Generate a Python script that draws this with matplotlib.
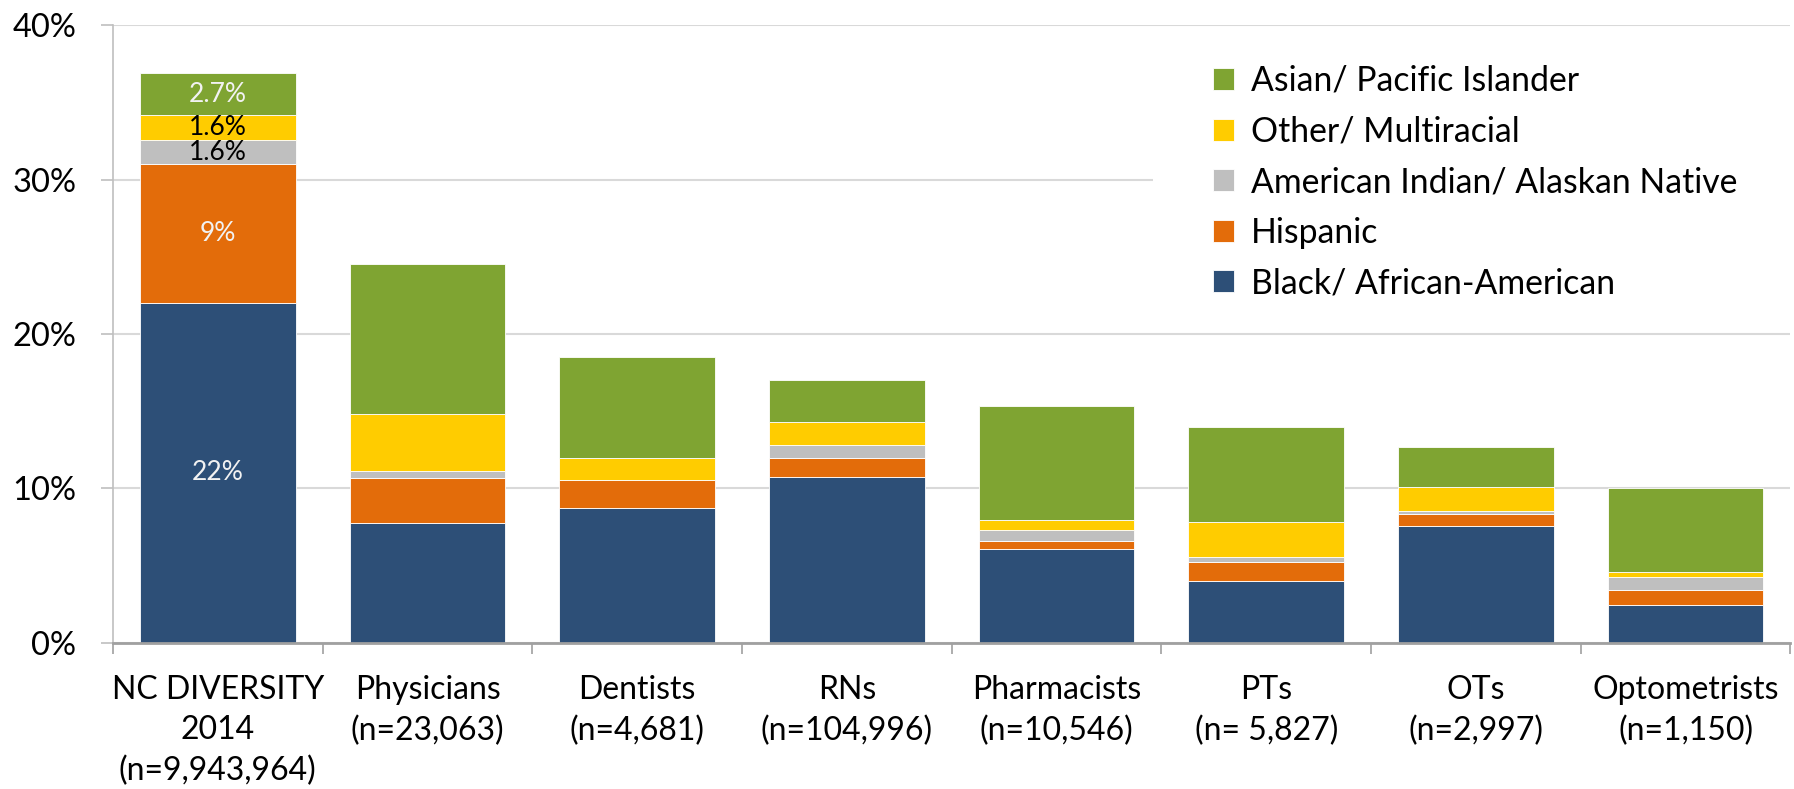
import numpy as np
import matplotlib
matplotlib.use("Agg")
import matplotlib.pyplot as plt
from matplotlib.patches import Rectangle

plt.rcParams['font.family'] = ['Lato', 'DejaVu Sans']

categories = ["NC DIVERSITY\n2014\n(n=9,943,964)", "Physicians\n(n=23,063)",
              "Dentists\n(n=4,681)", "RNs\n(n=104,996)", "Pharmacists\n(n=10,546)",
              "PTs\n(n= 5,827)", "OTs\n(n=2,997)", "Optometrists\n(n=1,150)"]

# percentages per group
black = [22.0, 7.74, 8.71, 10.76, 6.05, 3.98, 7.58, 2.42]
hispanic = [9.0, 2.91, 1.81, 1.23, 0.56, 1.23, 0.78, 1.00]
am_indian = [1.6, 0.50, 0.0, 0.80, 0.67, 0.32, 0.16, 0.86]
other = [1.6, 3.65, 1.43, 1.49, 0.67, 2.29, 1.57, 0.30]
asian = [2.7, 9.74, 6.55, 2.75, 7.41, 6.18, 2.59, 5.42]

series_names = ["Black/ African-American", "Hispanic",
                "American Indian/ Alaskan Native", "Other/ Multiracial",
                "Asian/ Pacific Islander"]
series_colors = ["#2D4F77", "#E36C0A", "#BFBFBF", "#FFCC00", "#7FA432"]

# labels shown on the first bar only
nc_labels = ["22%", "9%", "1.6%", "1.6%", "2.7%"]
nc_label_colors = ["#F2F2F2", "#F2F2F2", "black", "black", "#F2F2F2"]

fig = plt.figure(figsize=(17.94, 7.89), dpi=100)
ax = fig.add_axes([0.063, 0.1854, 0.935, 0.7823])

x = np.arange(len(categories))
bottom = np.zeros(len(categories))
bars = []
for vals, name, col in zip([black, hispanic, am_indian, other, asian],
                           series_names, series_colors):
    vals = np.array(vals)
    b = ax.bar(x, vals, 0.742, bottom=bottom, color=col, label=name,
               edgecolor='white', linewidth=0.6, zorder=2)
    bars.append(b)
    bottom = bottom + vals

# data labels on first bar
for i, b in enumerate(bars):
    rect = b[0]
    ax.text(rect.get_x() + rect.get_width() / 2, rect.get_y() + rect.get_height() / 2,
            nc_labels[i], ha='center', va='center', fontsize=19,
            color=nc_label_colors[i], zorder=3)

ax.set_xlim(-0.5, len(categories) - 0.5)
ax.set_ylim(0, 40)
ax.set_yticks([0, 10, 20, 30, 40])
ax.set_yticklabels(["0%", "10%", "20%", "30%", "40%"])
ax.yaxis.grid(True, color='#D9D9D9', linewidth=1.5)
ax.set_axisbelow(True)

ax.set_xticks(x)
ax.set_xticklabels(categories, fontsize=23, linespacing=1.42)
ax.set_xticks(np.arange(len(categories) + 1) - 0.5, minor=True)
ax.tick_params(axis='x', which='major', length=0, pad=23.5)
ax.tick_params(axis='x', which='minor', length=8, width=1.2, color='#A0A0A0')
ax.tick_params(axis='y', length=8.4, width=1.2, color='#BFBFBF', pad=18, labelsize=23.5)

for s in ['top', 'right']:
    ax.spines[s].set_visible(False)
ax.spines['left'].set_color('#BFBFBF')
ax.spines['left'].set_linewidth(1.2)
ax.spines['bottom'].set_color('#A0A0A0')
ax.spines['bottom'].set_linewidth(2)

# white box behind legend hides part of the gridline
ax.add_patch(Rectangle((1153 / 1794, 1 - 325 / 789), 1 - 1153 / 1794, 285 / 789,
                       transform=fig.transFigure, facecolor='white',
                       edgecolor='none', zorder=1, clip_on=False))

handles, labels = ax.get_legend_handles_labels()
leg = ax.legend(handles[::-1], labels[::-1], loc='upper left',
                bbox_to_anchor=(1213 / 1794, 1 - 65 / 789),
                bbox_transform=fig.transFigure, frameon=False, fontsize=24.3,
                handlelength=0.63, handleheight=0.63, handletextpad=0.5,
                labelspacing=0.55, borderpad=0, borderaxespad=0)
leg.set_zorder(5)

fig.savefig("out.png", dpi=100)
